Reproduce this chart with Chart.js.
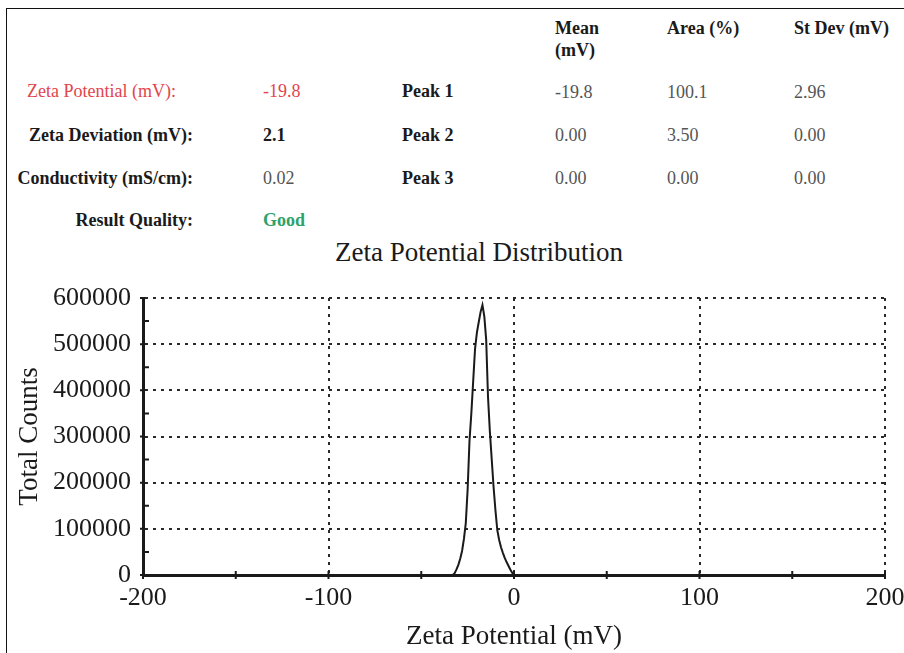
<!DOCTYPE html>
<html>
<head>
<meta charset="utf-8">
<script src="https://cdn.jsdelivr.net/npm/chart.js@4.4.1/dist/chart.umd.min.js"></script>
<style>
  html, body { margin: 0; padding: 0; background: #fff; overflow: hidden; }
  body { width: 904px; height: 653px; position: relative; font-family: "Liberation Serif", "Times New Roman", serif; }
  #frame { position: absolute; left: 6px; top: 8px; width: 930px; height: 700px; border: 1.5px solid #111; }
  #chart { position: absolute; left: 0; top: 0; }
  .t { position: absolute; font-size: 18px; line-height: 20px; white-space: nowrap; color: #1a1a1a; }
  .b { font-weight: bold; }
  .g { color: #555; }
  .red { color: #e2454c; }
  .green { color: #2ea26a; font-weight: bold; }
  .r { text-align: right; }
  #title { position: absolute; left: 0; width: 958px; top: 237px; text-align: center; font-size: 27px; line-height: 30px; color: #1a1a1a; }
</style>
</head>
<body>
<div id="frame"></div>

<!-- results header -->
<div class="t b" style="left:555px; top:18px;">Mean</div>
<div class="t b" style="left:555px; top:40px;">(mV)</div>
<div class="t b" style="left:667px; top:18px;">Area (%)</div>
<div class="t b" style="left:794px; top:18px;">St Dev (mV)</div>

<div class="t red" style="left:27px; top:81px;">Zeta Potential (mV):</div>
<div class="t b r" style="right:711px; top:125px;">Zeta Deviation (mV):</div>
<div class="t b r" style="right:711px; top:168px;">Conductivity (mS/cm):</div>
<div class="t b r" style="right:711px; top:210px;">Result Quality:</div>

<div class="t red" style="left:263px; top:81px;">-19.8</div>
<div class="t b" style="left:263px; top:125px;">2.1</div>
<div class="t g" style="left:263px; top:168px;">0.02</div>
<div class="t green" style="left:263px; top:210px;">Good</div>

<div class="t b" style="left:402px; top:81px;">Peak 1</div>
<div class="t b" style="left:402px; top:125px;">Peak 2</div>
<div class="t b" style="left:402px; top:168px;">Peak 3</div>

<div class="t g" style="left:555px; top:82px;">-19.8</div>
<div class="t g" style="left:667px; top:82px;">100.1</div>
<div class="t g" style="left:794px; top:82px;">2.96</div>
<div class="t g" style="left:555px; top:125px;">0.00</div>
<div class="t g" style="left:667px; top:125px;">3.50</div>
<div class="t g" style="left:794px; top:125px;">0.00</div>
<div class="t g" style="left:555px; top:168px;">0.00</div>
<div class="t g" style="left:667px; top:168px;">0.00</div>
<div class="t g" style="left:794px; top:168px;">0.00</div>

<div id="title">Zeta Potential Distribution</div>

<canvas id="chart" width="904" height="653"></canvas>

<script>
// Zeta potential (mV) and total counts
const zetaMv = [-200, -35, -33, -32, -31, -30, -29, -28, -27, -26, -25, -24, -23, -22, -21, -20, -19, -18, -17,
  -16, -15, -14, -13, -12, -11, -10, -9, -8, -7, -6, -5, -4, -3, -2, -1, 0, 200];
const totalCounts = [0, 0, 0, 4000, 12000, 22000, 35000, 52000, 78000, 112000, 185000, 290000, 350000, 420000, 490000,
  525000, 548000, 570000, 585000, 560000, 510000, 385000, 310000, 250000, 190000, 140000, 97000, 76000, 60000,
  48000, 37000, 28000, 20000, 12000, 5000, 0, 0];

const xTicks = [-200, -100, 0, 100, 200];
const yTicks = [0, 100000, 200000, 300000, 400000, 500000, 600000];
const xMinorTicks = [-200, -150, -100, -50, 0, 50, 100, 150, 200];
const yMinorTicks = [50000, 150000, 250000, 350000, 450000, 550000];

const ink = "#1a1a1a";

// small tick marks on both axes
const minorTicks = {
  id: "minorTicks",
  afterDatasetsDraw(chart) {
    const { ctx, scales: { x, y } } = chart;
    ctx.save();
    ctx.strokeStyle = ink;
    ctx.lineWidth = 2;
    ctx.beginPath();
    xMinorTicks.forEach((v) => {
      const px = x.getPixelForValue(v);
      ctx.moveTo(px, y.bottom - 4);
      ctx.lineTo(px, y.bottom + 4);
    });
    yMinorTicks.forEach((v) => {
      const py = y.getPixelForValue(v);
      ctx.moveTo(x.left, py);
      ctx.lineTo(x.left + 6, py);
    });
    yTicks.forEach((v) => {
      const py = y.getPixelForValue(v);
      ctx.moveTo(x.left - 3, py);
      ctx.lineTo(x.left, py);
    });
    ctx.stroke();
    ctx.restore();
  },
};

new Chart(document.getElementById("chart"), {
  type: "scatter",
  data: {
    datasets: [
      {
        label: "Total Counts",
        data: zetaMv.map((v, i) => ({ x: v, y: totalCounts[i] })),
        showLine: true,
        borderColor: ink,
        borderWidth: 2,
        pointRadius: 0,
        tension: 0,
      },
    ],
  },
  options: {
    responsive: false,
    animation: false,
    layout: { padding: { left: 8, top: 298, right: 19, bottom: 0 } },
    plugins: { legend: { display: false }, tooltip: { enabled: false } },
    scales: {
      x: {
        type: "linear",
        min: xTicks[0],
        max: xTicks[xTicks.length - 1],
        afterBuildTicks: (scale) => { scale.ticks = xTicks.map((v) => ({ value: v })); },
        afterFit: (scale) => {
          scale.height = 78;
          scale.paddingLeft = 0;
          scale.paddingRight = 0;
        },
        ticks: {
          color: ink,
          padding: 8,
          maxRotation: 0,
          font: { family: "Liberation Serif", size: 26 },
          callback: (v) => String(v),
        },
        grid: { color: "#2a2a2a", lineWidth: 2, drawTicks: false },
        border: { display: true, color: ink, width: 3, dash: [3, 5] },
        title: {
          display: true,
          text: "Zeta Potential (mV)",
          color: ink,
          padding: { top: 0, bottom: 0 },
          font: { family: "Liberation Serif", size: 27 },
        },
      },
      y: {
        min: yTicks[0],
        max: yTicks[yTicks.length - 1],
        afterBuildTicks: (scale) => { scale.ticks = yTicks.map((v) => ({ value: v })); },
        afterFit: (scale) => {
          scale.width = 135;
          scale.paddingTop = 0;
          scale.paddingBottom = 0;
        },
        ticks: {
          color: ink,
          padding: 12,
          font: { family: "Liberation Serif", size: 26 },
          callback: (v) => String(v),
        },
        grid: { color: "#2a2a2a", lineWidth: 2, drawTicks: false },
        border: { display: true, color: ink, width: 3, dash: [3, 5] },
        title: {
          display: true,
          text: "Total Counts",
          color: ink,
          padding: { top: 6, bottom: 0 },
          font: { family: "Liberation Serif", size: 27 },
        },
      },
    },
  },
  plugins: [minorTicks],
});
</script>
</body>
</html>
